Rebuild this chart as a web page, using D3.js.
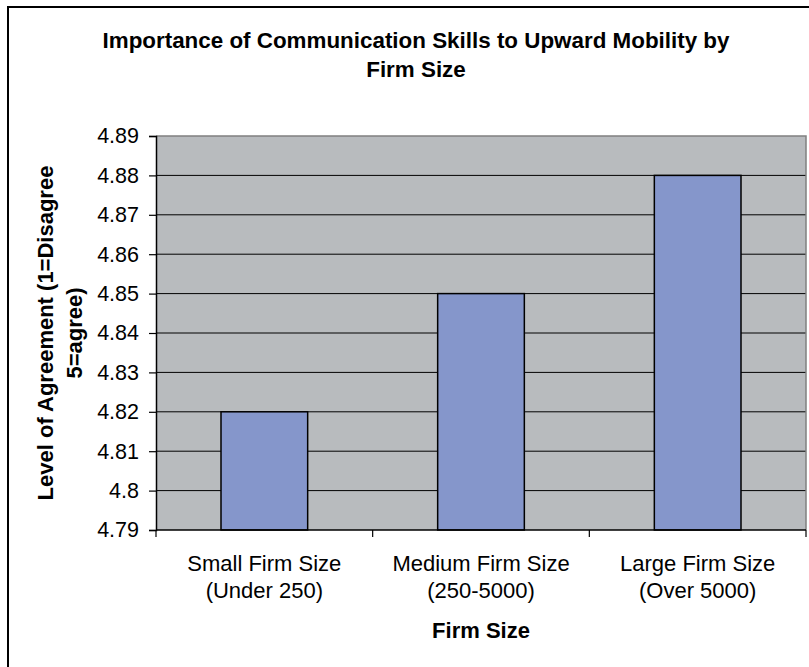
<!DOCTYPE html>
<html>
<head>
<meta charset="utf-8">
<script src="https://cdn.jsdelivr.net/npm/d3@7"></script>
<style>
  html, body { margin: 0; padding: 0; background: #ffffff; }
  svg { display: block; font-family: Arial, "Liberation Sans", sans-serif; }
</style>
</head>
<body>
<div id="chart"></div>
<script>
// Survey results: mean agreement by firm size
const categories = ["Small Firm Size", "Medium Firm Size", "Large Firm Size"];
const subLabels = ["(Under 250)", "(250-5000)", "(Over 5000)"];
const values = [4.82, 4.85, 4.88];
const yTicks = [4.79, 4.80, 4.81, 4.82, 4.83, 4.84, 4.85, 4.86, 4.87, 4.88, 4.89];
const titleLines = ["Importance of Communication Skills to Upward Mobility by", "Firm Size"];
const yTitleLines = ["Level of Agreement (1=Disagree", "5=agree)"];
const xTitle = "Firm Size";

const W = 809, H = 667;
const plot = { left: 156, right: 806, top: 136, bottom: 530 };

const svg = d3.select("#chart").append("svg")
  .attr("width", W).attr("height", H);

// chart frame (extends past the right and bottom edges)
svg.append("rect")
  .attr("x", 8).attr("y", 7)
  .attr("width", 900).attr("height", 800)
  .attr("fill", "#ffffff").attr("stroke", "#000000").attr("stroke-width", 2);

const x = d3.scaleBand()
  .domain(categories)
  .range([plot.left, plot.right])
  .paddingInner(0.6)
  .paddingOuter(0.3);

const y = d3.scaleLinear()
  .domain([yTicks[0], yTicks[yTicks.length - 1]])
  .range([plot.bottom, plot.top]);

// plot background
svg.append("rect")
  .attr("x", plot.left).attr("y", plot.top)
  .attr("width", plot.right - plot.left).attr("height", plot.bottom - plot.top)
  .attr("fill", "#B8BBBE");

// horizontal gridlines
svg.append("g").selectAll("line")
  .data(yTicks.slice(1, -1))
  .join("line")
  .attr("x1", plot.left).attr("x2", plot.right)
  .attr("y1", d => y(d)).attr("y2", d => y(d))
  .attr("stroke", "#000000").attr("stroke-width", 1);

// plot border top and right
svg.append("path")
  .attr("d", `M${plot.left},${y(yTicks[yTicks.length - 1])}H${plot.right}V${plot.bottom}`)
  .attr("fill", "none").attr("stroke", "#808080").attr("stroke-width", 1.5);

// bars
svg.append("g").selectAll("rect")
  .data(values)
  .join("rect")
  .attr("x", (d, i) => x(categories[i]))
  .attr("y", d => y(d))
  .attr("width", x.bandwidth())
  .attr("height", d => y(yTicks[0]) - y(d))
  .attr("fill", "#8596CB")
  .attr("stroke", "#000000").attr("stroke-width", 1.5);

// y axis
const yAxis = d3.axisLeft(y)
  .tickValues(yTicks)
  .tickFormat(d => String(+d.toFixed(2)))
  .tickSize(7)
  .tickPadding(10);
const gy = svg.append("g")
  .attr("transform", `translate(${plot.left},0)`)
  .call(yAxis);
gy.select(".domain").attr("stroke", "#000000").attr("stroke-width", 1.5);
gy.selectAll(".tick line").attr("stroke", "#000000").attr("stroke-width", 1.2);
gy.selectAll(".tick text")
  .attr("font-size", 21.5)
  .attr("font-family", "Arial, 'Liberation Sans', sans-serif")
  .attr("fill", "#000000");

// x axis line and tick marks at category boundaries
const step = x.step();
const boundaries = d3.range(categories.length + 1).map(i =>
  i === 0 ? plot.left : x(categories[i - 1]) + x.bandwidth() + step * x.paddingInner() / 2);
svg.append("line")
  .attr("x1", plot.left).attr("x2", plot.right)
  .attr("y1", plot.bottom).attr("y2", plot.bottom)
  .attr("stroke", "#000000").attr("stroke-width", 1.5);
svg.append("g").selectAll("line")
  .data(boundaries)
  .join("line")
  .attr("x1", d => d).attr("x2", d => d)
  .attr("y1", plot.bottom).attr("y2", plot.bottom + 7)
  .attr("stroke", "#000000").attr("stroke-width", 1.2);

// category labels
const xl = svg.append("g").selectAll("text")
  .data(categories)
  .join("text")
  .attr("text-anchor", "middle")
  .attr("font-size", 22)
  .attr("fill", "#000000");
xl.append("tspan")
  .attr("x", d => x(d) + x.bandwidth() / 2)
  .attr("y", 571)
  .text(d => d);
xl.append("tspan")
  .attr("x", d => x(d) + x.bandwidth() / 2)
  .attr("y", 598)
  .text((d, i) => subLabels[i]);

// x axis title
svg.append("text")
  .attr("x", (plot.left + plot.right) / 2)
  .attr("y", 638)
  .attr("text-anchor", "middle")
  .attr("font-size", 22).attr("font-weight", "bold")
  .text(xTitle);

// y axis title
const yMid = (plot.top + plot.bottom) / 2;
svg.append("g").selectAll("text")
  .data(yTitleLines)
  .join("text")
  .attr("transform", (d, i) => `translate(${53 + i * 29},${yMid}) rotate(-90)`)
  .attr("text-anchor", "middle")
  .attr("font-size", 22).attr("font-weight", "bold")
  .text(d => d);

// chart title
svg.append("g").selectAll("text")
  .data(titleLines)
  .join("text")
  .attr("x", 416)
  .attr("y", (d, i) => 48 + i * 29)
  .attr("text-anchor", "middle")
  .attr("font-size", 22.4).attr("font-weight", "bold")
  .text(d => d);
</script>
</body>
</html>
